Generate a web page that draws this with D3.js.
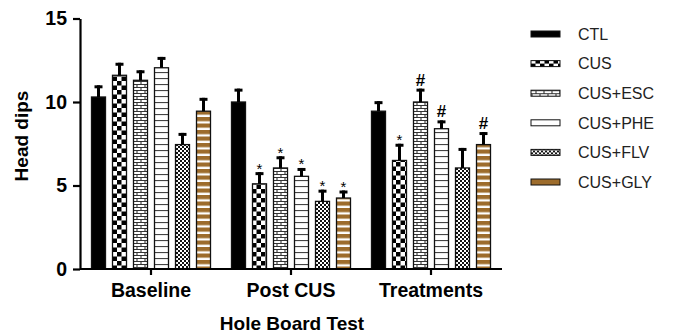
<!DOCTYPE html>
<html>
<head>
<meta charset="utf-8">
<script src="https://cdn.jsdelivr.net/npm/d3@7/dist/d3.min.js"></script>
<style>
  html, body { margin: 0; padding: 0; background: #fff; }
  svg { display: block; font-family: "Liberation Sans", Arial, sans-serif; }
</style>
</head>
<body>
<svg id="chart" width="678" height="333"></svg>
<script>
// Hole board test: head dips per phase and treatment group (mean ± SEM)
const groups = ["Baseline", "Post CUS", "Treatments"];
const seriesNames = ["CTL", "CUS", "CUS+ESC", "CUS+PHE", "CUS+FLV", "CUS+GLY"];

const ctlMean = [10.3, 10.0, 9.45];
const ctlErr  = [0.7, 0.8, 0.6];
const cusMean = [11.6, 5.1, 6.5];
const cusErr  = [0.75, 0.7, 1.0];
const escMean = [11.3, 6.05, 10.0];
const escErr  = [0.6, 0.7, 0.8];
const pheMean = [12.05, 5.55, 8.4];
const pheErr  = [0.65, 0.5, 0.5];
const flvMean = [7.45, 4.05, 6.05];
const flvErr  = [0.7, 0.7, 1.2];
const glyMean = [9.45, 4.25, 7.45];
const glyErr  = [0.8, 0.45, 0.75];

// significance marks per group, in series order
const sigBaseline   = ["", "", "", "", "", ""];
const sigPostCus    = ["", "*", "*", "*", "*", "*"];
const sigTreatments = ["", "*", "#", "#", "", "#"];

const yTicks = [0, 5, 10, 15];

const allMeans = [ctlMean, cusMean, escMean, pheMean, flvMean, glyMean];
const allErrs  = [ctlErr, cusErr, escErr, pheErr, flvErr, glyErr];
const allSig   = [sigBaseline, sigPostCus, sigTreatments];

const rows = [];
groups.forEach((g, gi) => {
  seriesNames.forEach((s, si) => {
    rows.push({ group: g, series: s, si, value: allMeans[si][gi], err: allErrs[si][gi], sig: allSig[gi][si] });
  });
});

const svg = d3.select("#chart");
const defs = svg.append("defs");
const brown = "#9d6c2c";

// fill patterns for each treatment group
function pat(id, w, h) {
  return defs.append("pattern").attr("id", id).attr("patternUnits", "userSpaceOnUse")
    .attr("width", w).attr("height", h);
}
// CUS: coarse checkerboard
let p = pat("pCus", 9, 9);
p.append("rect").attr("width", 9).attr("height", 9).attr("fill", "#fff");
p.append("rect").attr("width", 4.5).attr("height", 4.5).attr("fill", "#000");
p.append("rect").attr("x", 4.5).attr("y", 4.5).attr("width", 4.5).attr("height", 4.5).attr("fill", "#000");
// CUS+ESC: brick
p = pat("pEsc", 8, 6);
p.append("rect").attr("width", 8).attr("height", 6).attr("fill", "#fff");
p.append("path").attr("d", "M0,0.5H8M0,3.5H8M1,0.5V3.5M5,3.5V6.5")
  .attr("stroke", "#333").attr("stroke-width", 1.1).attr("fill", "none");
// CUS+PHE: horizontal lines
p = pat("pPhe", 8, 6);
p.append("rect").attr("width", 8).attr("height", 6).attr("fill", "#fff");
p.append("path").attr("d", "M0,0.5H8").attr("stroke", "#444").attr("stroke-width", 1.2);
// CUS+FLV: fine checkerboard
p = pat("pFlv", 4, 4);
p.append("rect").attr("width", 4).attr("height", 4).attr("fill", "#fff");
p.append("rect").attr("width", 2).attr("height", 2).attr("fill", "#111");
p.append("rect").attr("x", 2).attr("y", 2).attr("width", 2).attr("height", 2).attr("fill", "#111");
// CUS+GLY: brown and white stripes
p = pat("pGly", 8, 6.5);
p.append("rect").attr("width", 8).attr("height", 6.5).attr("fill", "#fff");
p.append("rect").attr("width", 8).attr("height", 4.2).attr("fill", brown);

const fills = ["#000", "url(#pCus)", "url(#pEsc)", "url(#pPhe)", "url(#pFlv)", "url(#pGly)"];
const legendFills = ["#000", "url(#pCus)", "url(#pEsc)", "#fff", "url(#pFlv)", brown];

const x0 = d3.scaleBand().domain(groups).range([81, 501]).padding(0);
const x1 = d3.scaleBand().domain(seriesNames).range([0, x0.bandwidth()])
  .paddingInner(1 / 3).paddingOuter(0.5);
const y = d3.scaleLinear().domain([0, 15]).range([269, 18.5]);

// bars
const gBars = svg.append("g");
gBars.selectAll("rect.bar").data(rows).join("rect")
  .attr("class", "bar")
  .attr("x", d => x0(d.group) + x1(d.series))
  .attr("y", d => y(d.value))
  .attr("width", x1.bandwidth())
  .attr("height", d => y(0) - y(d.value))
  .attr("fill", d => fills[d.si])
  .attr("stroke", "#111").attr("stroke-width", 1.3);

// error bars (upper only)
const cx = d => x0(d.group) + x1(d.series) + x1.bandwidth() / 2;
gBars.selectAll("line.stem").data(rows).join("line")
  .attr("x1", cx).attr("x2", cx)
  .attr("y1", d => y(d.value)).attr("y2", d => y(d.value + d.err))
  .attr("stroke", "#000").attr("stroke-width", 3);
gBars.selectAll("line.cap").data(rows).join("line")
  .attr("x1", d => cx(d) - 4).attr("x2", d => cx(d) + 4)
  .attr("y1", d => y(d.value + d.err) + 1.5).attr("y2", d => y(d.value + d.err) + 1.5)
  .attr("stroke", "#000").attr("stroke-width", 3);

// significance marks
gBars.selectAll("text.sig").data(rows.filter(d => d.sig)).join("text")
  .attr("x", cx)
  .attr("y", d => d.sig === "*" ? y(d.value + d.err) + 1.5 : y(d.value + d.err) - 3)
  .attr("text-anchor", "middle")
  .attr("font-size", d => d.sig === "*" ? 15 : 17)
  .attr("font-weight", d => d.sig === "*" ? "normal" : "bold")
  .attr("fill", "#000")
  .text(d => d.sig);

// axes
const yAxis = svg.append("g").attr("transform", "translate(80,0)")
  .call(d3.axisLeft(y).tickValues(yTicks).tickSize(7).tickSizeOuter(0).tickPadding(6));
const xAxis = svg.append("g").attr("transform", "translate(0,269)")
  .call(d3.axisBottom(x0).tickSize(6).tickSizeOuter(0).tickPadding(8));
[yAxis, xAxis].forEach(a => {
  a.select(".domain").attr("stroke", "#000").attr("stroke-width", 2.2);
  a.selectAll(".tick line").attr("stroke", "#000").attr("stroke-width", 2.2);
  a.selectAll(".tick text").attr("fill", "#000").attr("font-size", 19.5).attr("font-weight", "bold")
    .attr("font-family", "'Liberation Sans', Arial, sans-serif");
});
xAxis.select(".domain").attr("d", "M80,0H502");

// axis titles
svg.append("text").attr("x", 292).attr("y", 330).attr("text-anchor", "middle")
  .attr("font-size", 19).attr("font-weight", "bold").attr("fill", "#000")
  .text("Hole Board Test");
svg.append("text").attr("transform", "translate(28,136) rotate(-90)").attr("text-anchor", "middle")
  .attr("font-size", 19).attr("font-weight", "bold").attr("fill", "#000")
  .text("Head dips");

// legend
const legend = svg.append("g").attr("transform", "translate(531,34)");
const li = legend.selectAll("g").data(seriesNames).join("g")
  .attr("transform", (d, i) => `translate(0,${i * 29.6})`);
li.append("rect").attr("x", 0).attr("y", -3).attr("width", 29).attr("height", 6)
  .attr("fill", (d, i) => legendFills[i]).attr("stroke", "#111").attr("stroke-width", 1);
li.append("text").attr("x", 47).attr("y", 0).attr("dy", "0.36em")
  .attr("font-size", 16).attr("fill", "#222").text(d => d);
</script>
</body>
</html>
